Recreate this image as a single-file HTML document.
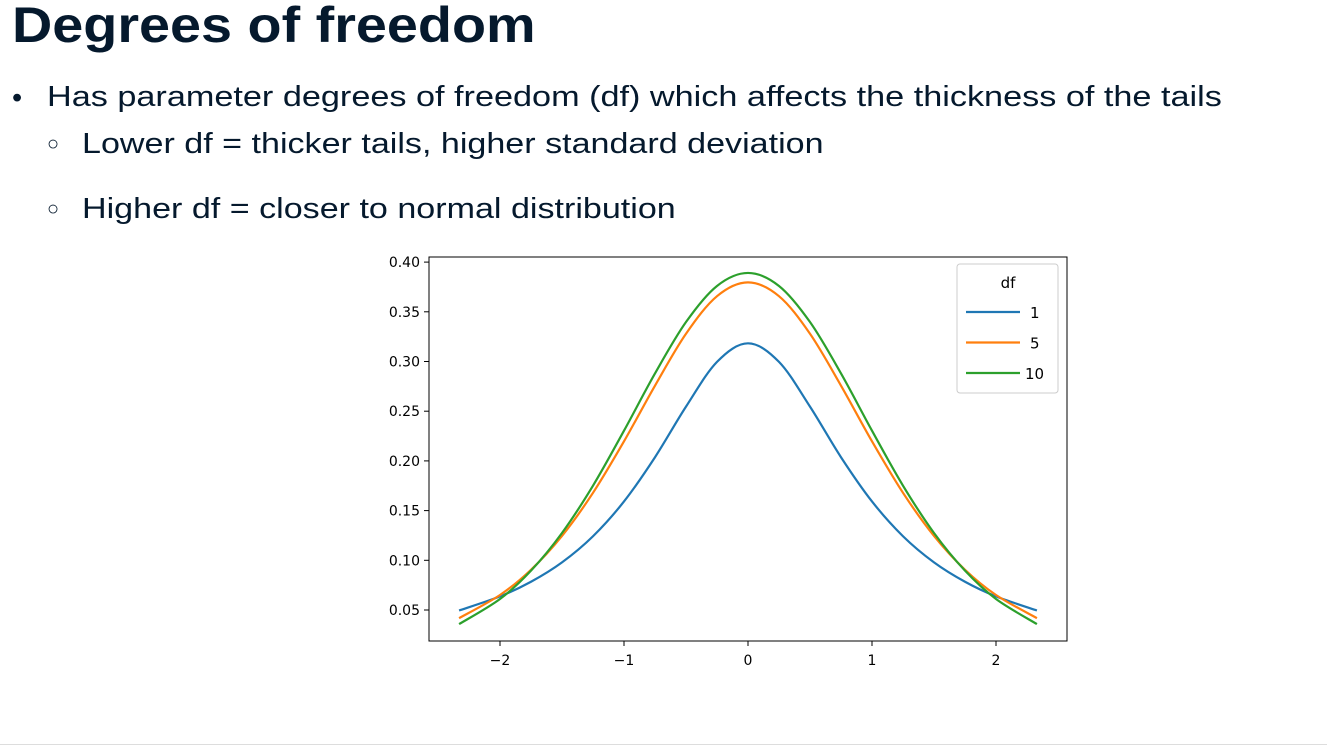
<!DOCTYPE html>
<html><head><meta charset="utf-8"><style>
body{margin:0;width:1327px;height:753px;background:#fff;overflow:hidden;position:relative;font-family:"Liberation Sans","DejaVu Sans",sans-serif;color:#05192d}
.t{position:absolute;white-space:nowrap;transform-origin:0 0}
</style></head><body>
<div class="t" style="left:12px;top:-4px;font-size:50px;font-weight:bold;transform:scaleX(1.115)">Degrees of freedom</div>
<div class="t" style="left:12px;top:82px;font-size:29px">•</div>
<div class="t" style="left:47px;top:81px;font-size:29px;transform:scaleX(1.18)">Has parameter degrees of freedom (df) which affects the thickness of the tails</div>
<div class="t" style="left:47px;top:133px;font-size:20px">○</div>
<div class="t" style="left:82px;top:128px;font-size:29px;transform:scaleX(1.175)">Lower df = thicker tails, higher standard deviation</div>
<div class="t" style="left:47px;top:198px;font-size:20px">○</div>
<div class="t" style="left:82px;top:193px;font-size:29px;transform:scaleX(1.175)">Higher df = closer to normal distribution</div>
<div style="position:absolute;left:0;top:744px;width:1327px;height:1px;background:#ddd"></div>
<svg id="chart" width="1327" height="753" style="position:absolute;left:0;top:0" font-family="DejaVu Sans, sans-serif"></svg>
<script>
const xs=[-2.33,-2,-1.75,-1.5,-1.25,-1,-0.75,-0.5,-0.25,0,0.25,0.5,0.75,1,1.25,1.5,1.75,2,2.33];
const df1=[0.0495,0.0637,0.0784,0.0979,0.1242,0.1592,0.2037,0.2546,0.2996,0.3183,0.2996,0.2546,0.2037,0.1592,0.1242,0.0979,0.0784,0.0637,0.0495];
const df5=[0.0418,0.0651,0.0905,0.1245,0.1679,0.2197,0.2757,0.3279,0.3657,0.3796,0.3657,0.3279,0.2757,0.2197,0.1679,0.1245,0.0905,0.0651,0.0418];
const df10=[0.0358,0.0611,0.0896,0.1275,0.1751,0.2304,0.2880,0.3397,0.3760,0.3891,0.3760,0.3397,0.2880,0.2304,0.1751,0.1275,0.0896,0.0611,0.0358];
const xTicks=[-2,-1,0,1,2];
const xTickLabels=["\u22122","\u22121","0","1","2"];
const yTicks=[0.05,0.10,0.15,0.20,0.25,0.30,0.35,0.40];
const seriesNames=["1","5","10"];
const colors=["#1f77b4","#ff7f0e","#2ca02c"];
const svg=document.getElementById('chart');const NS='http://www.w3.org/2000/svg';
const L=429,R=1067,T=257,B=641;
const X=v=>748+v*124, Y=v=>659.7-v*994;
function mk(t,a,p){const e=document.createElementNS(NS,t);for(const k in a)e.setAttribute(k,a[k]);(p||svg).appendChild(e);return e;}
const frame=mk('rect',{x:L,y:T,width:R-L,height:B-T,fill:'none',stroke:'#000','stroke-width':1});


xTicks.forEach((v,i)=>{const g=mk('g',{});


mk('line',{x1:X(v),x2:X(v),y1:B,y2:B+5,stroke:'#000'},g);
const t=mk('text',{x:X(v),y:B+24,'text-anchor':'middle','font-size':14,fill:'#000'},g);t.textContent=xTickLabels[i];});
yTicks.forEach(v=>{const g=mk('g',{});


mk('line',{x1:L-5,x2:L,y1:Y(v),y2:Y(v),stroke:'#000'},g);
const t=mk('text',{x:L-9,y:Y(v)+5,'text-anchor':'end','font-size':14,fill:'#000'},g);t.textContent=v.toFixed(2);});
function path(ys){const p=xs.map((x,i)=>[X(x),Y(ys[i])]);let d='M'+p[0][0]+','+p[0][1];
for(let i=0;i<p.length-1;i++){const p0=p[i-1]||p[i],p1=p[i],p2=p[i+1],p3=p[i+2]||p2;
d+=' C'+(p1[0]+(p2[0]-p0[0])/6)+','+(p1[1]+(p2[1]-p0[1])/6)+' '+(p2[0]-(p3[0]-p1[0])/6)+','+(p2[1]-(p3[1]-p1[1])/6)+' '+p2[0]+','+p2[1];}return d;}
[df1,df5,df10].forEach((s,i)=>{const e=mk('path',{d:path(s),fill:'none',stroke:colors[i],'stroke-width':2.2});

});
const lg=mk('g',{});


mk('rect',{x:957,y:264,width:101,height:129,rx:3,fill:'#fff',stroke:'#ccc'},lg);
const lt=mk('text',{x:1008,y:288,'text-anchor':'middle','font-size':15,fill:'#000'},lg);lt.textContent='df';
seriesNames.forEach((n,i)=>{const y=312+i*30.5;
const e=mk('g',{},lg);


mk('line',{x1:966,x2:1020,y1:y,y2:y,stroke:colors[i],'stroke-width':2.2},e);
const t=mk('text',{x:(n.length>1?1025:1030),y:y+6,'font-size':15,fill:'#000'},e);t.textContent=n;});
</script>
</body></html>
